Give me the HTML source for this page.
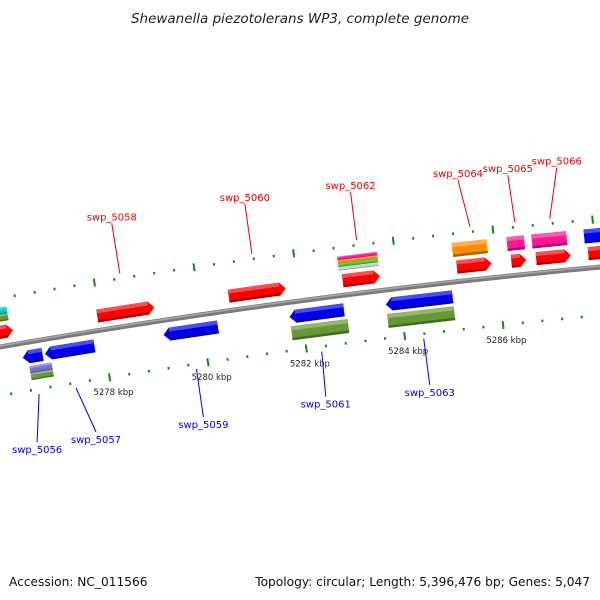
<!DOCTYPE html>
<html><head><meta charset="utf-8"><style>
html,body{margin:0;padding:0;background:#fff;}
svg{display:block;font-family:"DejaVu Sans","Liberation Sans",sans-serif;}
</style></head><body>
<svg id="c" width="600" height="600" viewBox="0 0 600 600" xmlns="http://www.w3.org/2000/svg">
<text x="300" y="23" text-anchor="middle" font-size="13.5" font-style="italic" fill="#222">Shewanella piezotolerans WP3, complete genome</text>
<text x="9" y="586" font-size="12.2" fill="#111">Accession: NC_011566</text>
<text x="590" y="586" text-anchor="end" font-size="12.2" fill="#111">Topology: circular; Length: 5,396,476 bp; Genes: 5,047</text>
<g id="g"></g>
</svg>
<script>
// gene data (kbp)
const geneNames = ["", "swp_5058", "swp_5060", "swp_5062", "swp_5064", "swp_5065", "swp_5066", "", "swp_5056", "swp_5057", "swp_5059", "swp_5061", "swp_5063"];
const geneStart = [5275.5, 5277.95, 5280.6, 5282.9, 5285.2, 5286.3, 5286.8, 5287.85, 5276.35, 5276.8, 5279.2, 5281.75, 5283.7];
const geneEnd   = [5276.25, 5279.1, 5281.75, 5283.65, 5285.9, 5286.6, 5287.5, 5289.0, 5276.75, 5277.8, 5280.3, 5282.85, 5285.05];
const geneStrand = [1,1,1,1,1,1,1,1,-1,-1,-1,-1,-1];
// category boxes (second row)
const catStart = [5275.3, 5282.85, 5285.15, 5286.25, 5286.75, 5287.8, 5276.45, 5281.75, 5283.7];
const catEnd   = [5276.2, 5283.65, 5285.85, 5286.6, 5287.45, 5289.0, 5276.9, 5282.9, 5285.05];
const catStrand = [1,1,1,1,1,1,-1,-1,-1];
const catColors = [["#00cccc","#669933"],["#ff1493","#ff8c00","#33cc33","#cccccc"],["#ff8c00"],["#ff1493"],["#ff1493"],["#0000ff"],["#7070dd","#669933"],["#669933"],["#669933"]];
// label geometry (px relative to anchor)
const labelDx = [0,-8,-7,-6,-12,-7,7,0,-2,20,7,4,6];
const labelLen = [0,50,50,48,47,47,51,0,48,44,48,45,46];
const tickStart = 5274.8, tickEnd = 5290, tickStep = 0.4;
const majorTicks = [5278, 5280, 5282, 5284, 5286, 5288];

const NS="http://www.w3.org/2000/svg";
const G=document.getElementById('g');
function Y(x){return 347-0.1739*x+6.78e-5*x*x;}
function dY(x){return -0.1739+2*6.78e-5*x;}
function bx(k){return 102+(k-5278)*49.5;}
function P(k,d){const x=bx(k),m=dY(x),L=Math.hypot(1,m);return [x+d*m/L, Y(x)-d/L];}
function mk(tag,attrs){const e=document.createElementNS(NS,tag);for(const a in attrs)e.setAttribute(a,attrs[a]);G.appendChild(e);return e;}
function shade(c,f){const n=parseInt(c.slice(1),16);let r=n>>16,g=(n>>8)&255,b=n&255;
 if(f>0){r+= (255-r)*f;g+=(255-g)*f;b+=(255-b)*f;}else{r*=1+f;g*=1+f;b*=1+f;}
 return `rgb(${r|0},${g|0},${b|0})`;}

// backbone
let pts=[];for(let k=5274.5;k<=5290.5;k+=0.1){const p=P(k,0);pts.push(p.join(','));}
let bb=mk('polyline',{points:pts.join(' '),fill:'none',stroke:'#7a7a7a','stroke-width':5});


let bb2=mk('polyline',{points:pts.join(' '),fill:'none',stroke:'#a8a8a8','stroke-width':1.5,transform:'translate(0,-1)'});



// ticks
for(let k=tickStart;k<=tickEnd+1e-6;k+=tickStep){
 const major=majorTicks.some(m=>Math.abs(m-k)<0.05);
 for(const s of [1,-1]){
  const h=major?4:1.3;const a=P(k,s*48-h),b=P(k,s*48+h);
  const t=mk('line',{x1:a[0],y1:a[1],x2:b[0],y2:b[1],stroke:'#118811','stroke-width':2});
  
  
 }
}
majorTicks.forEach(k=>{const p=P(k,-60);
 if(p[0]>570) return;
 const t=mk('text',{x:p[0+0]+2,y:p[1]+6,'text-anchor':'middle','font-size':8.5,fill:'#222'});
 t.textContent=k+' kbp';
 
 });

function band(k1,k2,d1,d2,color,arrowDir,name){
 const tip=0.12;let poly;
 const mid=(d1+d2)/2;
 if(arrowDir===1){poly=[P(k1,d1),P(k2-tip,d1),P(k2,mid),P(k2-tip,d2),P(k1,d2)];}
 else if(arrowDir===-1){poly=[P(k1+tip,d1),P(k2,d1),P(k2,d2),P(k1+tip,d2),P(k1,mid)];}
 else poly=[P(k1,d1),P(k2,d1),P(k2,d2),P(k1,d2)];
 const e=mk('polygon',{points:poly.map(p=>p.join(',')).join(' '),fill:color});
 
 
 const top=Math.max(d1,d2),bot=Math.min(d1,d2),hh=(top-bot);
 const a1=arrowDir===-1?k1+tip:k1, a2=arrowDir===1?k2-tip:k2;
 const h=mk('polygon',{points:[P(a1,top),P(a2,top),P(a2,top-hh*0.3),P(a1,top-hh*0.3)].map(p=>p.join(',')).join(' '),fill:shade(color,0.3)});
 
 
 const s=mk('polygon',{points:[P(a1,bot+hh*0.18),P(a2,bot+hh*0.18),P(a2,bot),P(a1,bot)].map(p=>p.join(',')).join(' '),fill:shade(color,-0.3)});
 
 
}

// category boxes
catStart.forEach((k,i)=>{const s=catStrand[i];const cols=catColors[i];
 const d0=s>0?25:-24,total=14,n=cols.length,h=total/n;
 cols.forEach((c,j)=>{const a=s>0?d0+total-(j+1)*h:d0-j*h-h;band(k,catEnd[i],a,a+h,c,0,'category-box');});
});
// genes
geneStart.forEach((k,i)=>{const s=geneStrand[i];
 const d1=s>0?8:-21,d2=d1+13;
 band(k,geneEnd[i],d1,d2,s>0?'#ff0000':'#0000ee',s,geneNames[i]?geneNames[i]+'-gene':'gene');
 if(geneNames[i]){
  const mid=(k+geneEnd[i])/2;const a=P(mid,s*53);
  const b=[a[0]+labelDx[i],a[1]-s*labelLen[i]];
  const col=s>0?'#ee0000':'#0000ee';
  const l=mk('line',{x1:a[0],y1:a[1],x2:b[0],y2:b[1],stroke:col,'stroke-width':1});
  
  
  const t=mk('text',{x:b[0],y:s>0?b[1]-3:b[1]+11,'text-anchor':'middle','font-size':10,fill:col});
  t.textContent=geneNames[i];
  
  
 }
});
</script>
</body></html>
